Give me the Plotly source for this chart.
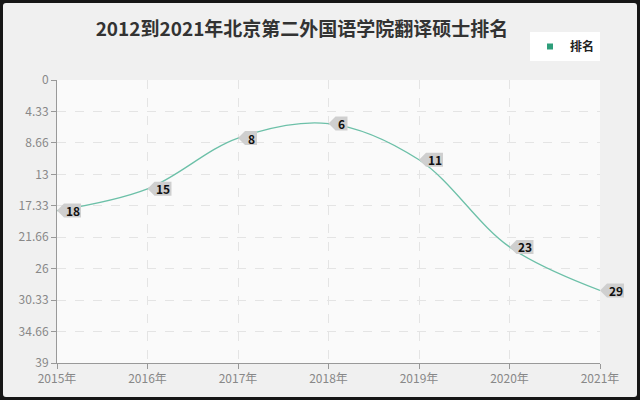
import plotly.graph_objects as go

years = ["2015年", "2016年", "2017年", "2018年", "2019年", "2020年", "2021年"]
ranks = [18, 15, 8, 6, 11, 23, 29]
y_ticks = [0, 4.33, 8.66, 13, 17.33, 21.66, 26, 30.33, 34.66, 39]
y_tick_labels = ["0", "4.33", "8.66", "13", "17.33", "21.66", "26", "30.33", "34.66", "39"]
title_text = "2012到2021年北京第二外国语学院翻译硕士排名"
series_name = "排名"

W, H = 640, 400
ML, MR, MT, MB = 57, 40, 80, 37
PW, PH = W - ML - MR, H - MT - MB

def pxp(x):
    return (x - ML) / PW

def pyp(y):
    return (H - MB - y) / PH

LINE = "#6cc0a8"
FONT = "Noto Sans CJK SC"

fig = go.Figure()
fig.add_trace(go.Scatter(
    x=years, y=ranks, mode="lines",
    line=dict(color=LINE, width=1.3, shape="spline", smoothing=1.0),
    showlegend=False, hoverinfo="skip",
))
fig.add_trace(go.Scatter(
    x=[None], y=[None], mode="markers", name=series_name,
    marker=dict(symbol="square", size=6, color="#2e9e7a"),
))

annotations = []
shapes = []
TIP, HALF = 7, 7
n = len(years)
for i, (xv, yv) in enumerate(zip(years, ranks)):
    label = str(yv)
    w = 7 + 5 * len(label)
    # x position of the category on the [0, n-1] category axis, as a paper fraction
    shapes.append(dict(
        type="path", xref="paper", yref="y", xsizemode="pixel", ysizemode="pixel",
        xanchor=i / (n - 1), yanchor=yv,
        path=f"M 0,0 L {TIP},{HALF} L {TIP + w},{HALF} L {TIP + w},{-HALF} L {TIP},{-HALF} Z",
        fillcolor="#cfcfcf", line=dict(width=0), layer="above",
    ))
    annotations.append(dict(
        x=xv, y=yv, xref="x", yref="y", text="<b>%s</b>" % label, showarrow=False,
        xanchor="center", yanchor="middle", xshift=TIP + w / 2,
        font=dict(size=12, color="#111111", family=FONT),
    ))

r = 7
x0, y0, x1, y1 = -1, -1, 641, 401
path = (
    f"M {pxp(x0 + r)},{pyp(y0)} L {pxp(x1 - r)},{pyp(y0)} "
    f"Q {pxp(x1)},{pyp(y0)} {pxp(x1)},{pyp(y0 + r)} "
    f"L {pxp(x1)},{pyp(y1 - r)} Q {pxp(x1)},{pyp(y1)} {pxp(x1 - r)},{pyp(y1)} "
    f"L {pxp(x0 + r)},{pyp(y1)} Q {pxp(x0)},{pyp(y1)} {pxp(x0)},{pyp(y1 - r)} "
    f"L {pxp(x0)},{pyp(y0 + r)} Q {pxp(x0)},{pyp(y0)} {pxp(x0 + r)},{pyp(y0)} Z"
)
shapes.append(dict(type="path", path=path, xref="paper", yref="paper",
                   fillcolor="rgba(0,0,0,0)", line=dict(width=8, color="#161616"), layer="above"))

fig.update_layout(
    width=W, height=H,
    margin=dict(l=ML, r=MR, t=MT, b=MB),
    paper_bgcolor="#f0f0f0",
    plot_bgcolor="#fafafa",
    font=dict(family=FONT, color="#888888"),
    title=dict(text=title_text, x=302 / W, xanchor="center", y=1 - 29 / H, yanchor="middle",
               font=dict(size=19, color="#333333", family=FONT, weight=600)),
    shapes=shapes,
    annotations=annotations,
    legend=dict(x=1, xanchor="right", y=pyp(32), yanchor="top", bgcolor="#ffffff",
                font=dict(size=12, color="#222222", family=FONT, weight=600),
                itemwidth=30, borderwidth=0),
    xaxis=dict(
        type="category", range=[0, n - 1],
        showgrid=True, gridcolor="#e4e4e4", griddash="dash", gridwidth=1,
        showline=True, linecolor="#999999", linewidth=1,
        ticks="outside", ticklen=5, tickcolor="#999999",
        tickfont=dict(size=12, color="#888888"), zeroline=False,
    ),
    yaxis=dict(
        range=[39, 0], tickvals=y_ticks, ticktext=y_tick_labels,
        showgrid=True, gridcolor="#e4e4e4", griddash="dash", gridwidth=1,
        showline=True, linecolor="#999999", linewidth=1,
        ticks="outside", ticklen=5, tickcolor="#999999",
        tickfont=dict(size=12, color="#888888"), zeroline=False,
    ),
)

fig.write_html("out.html", config={"displayModeBar": False},
               post_script="document.body.style.margin='0';document.body.style.overflow='hidden';")
